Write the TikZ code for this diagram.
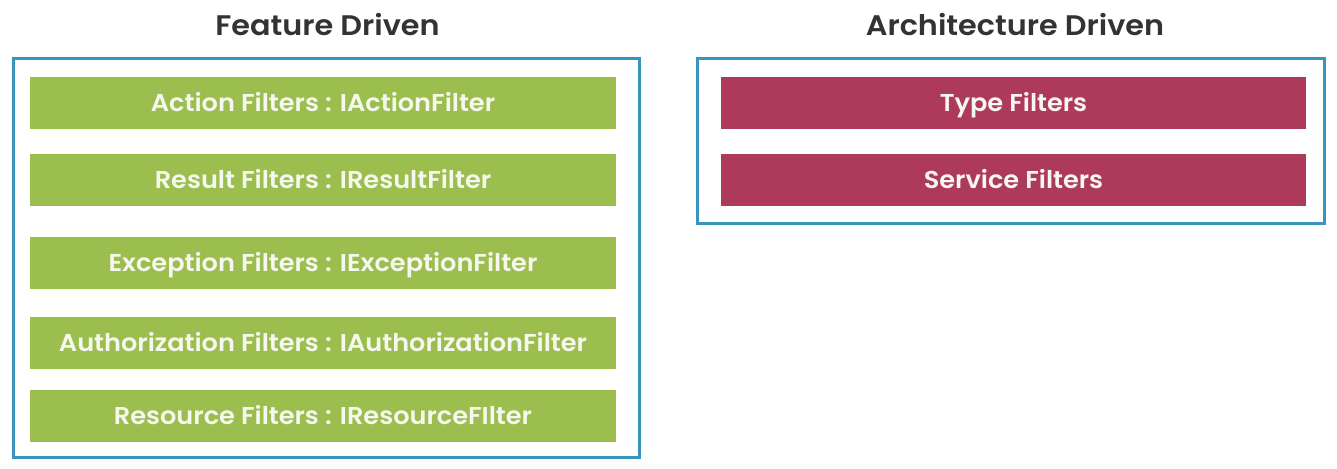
\documentclass[tikz,border=0pt]{standalone}
\usepackage{fontspec}
\newfontfamily\barfont{Poppins}[UprightFont={* SemiBold}, FakeStretch=1.05]
\newfontfamily\headfont{Poppins}[UprightFont={* SemiBold}, FakeStretch=1.07]
\usetikzlibrary{positioning}
\definecolor{framesky}{RGB}{58, 149, 190}
\definecolor{featuregreen}{RGB}{155, 190, 78}
\definecolor{archcrimson}{RGB}{174, 58, 90}
\definecolor{titlegray}{RGB}{51, 51, 51}
\definecolor{barwhite}{RGB}{246, 248, 240}
\tikzset{
    framebox/.style={draw=framesky, line width=3pt, inner sep=0pt},
    filterbar/.style={inner sep=0pt, text=barwhite, font=\barfont\fontsize{24.4}{28}\selectfont,
        text height=17pt, text depth=0pt},
    greenbar/.style={filterbar, fill=featuregreen, minimum width=586pt, minimum height=52pt},
    redbar/.style={filterbar, fill=archcrimson, minimum width=585pt, minimum height=52pt},
    heading/.style={text=titlegray, font=\headfont\fontsize{28.3}{32}\selectfont, inner sep=0pt,
        text height=19.7pt, text depth=0pt}
}
\begin{document}
\begin{tikzpicture}[x=1pt, y=-1pt]
            \useasboundingbox (0,0) rectangle (1337,468);
            \node[heading]  (featuretitle) at ( 327.5, 26.0) {Feature Driven};
            \node[heading]  (archtitle)    at (1015.0, 26.0) {Architecture Driven};
            \node[framebox, minimum width=626pt, minimum height=398.5pt] (featureframe) at ( 326.5, 257.75) {};
            \node[framebox, minimum width=627pt, minimum height=165pt]   (archframe)    at (1011.0, 141.0)  {};
            \node[greenbar] (action)       at ( 323.0, 103.0) {Action Filters : IActionFilter};
            \node[greenbar] (result)       at ( 323.0, 179.5) {Result Filters : IResultFilter};
            \node[greenbar] (exception)    at ( 323.0, 262.5) {Exception Filters : IExceptionFilter};
            \node[greenbar] (authorize)    at ( 323.0, 342.5) {Authorization Filters : IAuthorizationFilter};
            \node[greenbar] (resource)     at ( 323.0, 415.5) {Resource Filters : IResourceFIlter};
            \node[redbar]   (typefilter)   at (1013.5, 103.0) {Type Filters};
            \node[redbar]   (servicefilter) at (1013.5, 179.5) {Service Filters};
        \end{tikzpicture}
\end{document}
